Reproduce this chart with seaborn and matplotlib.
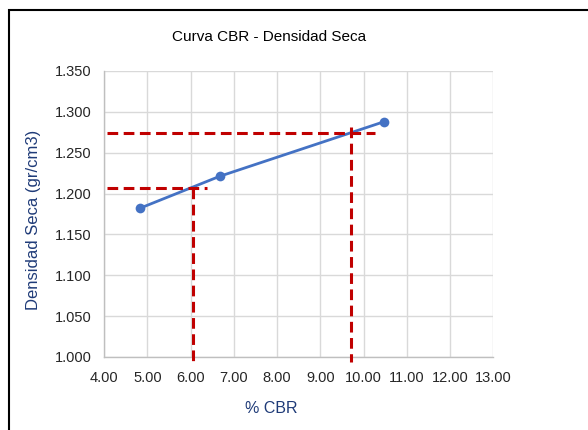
import matplotlib

matplotlib.use("Agg")
import matplotlib.pyplot as plt
import matplotlib.patches as mpatches
import pandas as pd
import seaborn as sns

# CBR test points
cbr = [4.83, 6.67, 10.48]
densidad = [1.182, 1.221, 1.288]

# read-off guides (dashed red)
guide_low_x = [4.06, 6.37]
guide_low_y = [1.207, 1.207]
guide_low_vx = [6.05, 6.05]
guide_low_vy = [1.207, 0.994]
guide_high_x = [4.06, 10.27]
guide_high_y = [1.274, 1.274]
guide_high_vx = [9.71, 9.71]
guide_high_vy = [1.282, 0.994]

x_ticks = [4, 5, 6, 7, 8, 9, 10, 11, 12, 13]
y_ticks = [1.000, 1.050, 1.100, 1.150, 1.200, 1.250, 1.300, 1.350]

sns.set_theme(style="whitegrid")
plt.rcParams["font.family"] = ["Liberation Sans Narrow", "Liberation Sans", "DejaVu Sans"]

fig = plt.figure(figsize=(5.88, 4.30), dpi=100)
ax = fig.add_axes([0.177, 0.170, 0.662, 0.665])

data = pd.DataFrame({"cbr": cbr, "densidad": densidad})
sns.lineplot(data=data, x="cbr", y="densidad", color="#4472C4", linewidth=2.0,
             marker="o", markersize=7, markeredgewidth=0, ax=ax, zorder=3)

red = "#C00000"
for gx, gy in [(guide_low_x, guide_low_y), (guide_low_vx, guide_low_vy),
               (guide_high_x, guide_high_y), (guide_high_vx, guide_high_vy)]:
    ax.plot(gx, gy, color=red, linewidth=2.2, linestyle=(0, (3.5, 1.8)), clip_on=False, zorder=4)

ax.set_xlim(4, 13)
ax.set_ylim(1.0, 1.35)
ax.set_xticks(x_ticks)
ax.set_yticks(y_ticks)
ax.set_xticklabels([f"{v:.2f}" for v in x_ticks])
ax.set_yticklabels([f"{v:.3f}" for v in y_ticks])
ax.tick_params(axis="both", labelsize=10.5, colors="#262626", length=0)
ax.tick_params(axis="x", pad=10)
ax.tick_params(axis="y", pad=9)
ax.grid(True, color="#D9D9D9", linewidth=1.0)
for side in ["top", "right"]:
    ax.spines[side].set_visible(False)
for side in ["left", "bottom"]:
    ax.spines[side].set_color("#BFBFBF")
    ax.spines[side].set_linewidth(1.0)
ax.set_xlabel("")
ax.set_ylabel("")

fig.text(0.458, 0.914, "Curva CBR - Densidad Seca", ha="center", va="center",
         fontsize=11, color="#000000")
fig.text(0.462, 0.051, "% CBR", ha="center", va="center", fontsize=11.5, color="#1F3B78")
fig.text(0.057, 0.488, "Densidad Seca (gr/cm3)", ha="center", va="center", rotation=90,
         fontsize=12, color="#1F3B78")

fig.patches.append(mpatches.Rectangle((9 / 588, -0.05), 1.0, 1.05 - 10 / 430,
                                      transform=fig.transFigure, fill=False,
                                      edgecolor="#000000", linewidth=1.5))

fig.savefig("out.png", dpi=100)
plt.close(fig)
